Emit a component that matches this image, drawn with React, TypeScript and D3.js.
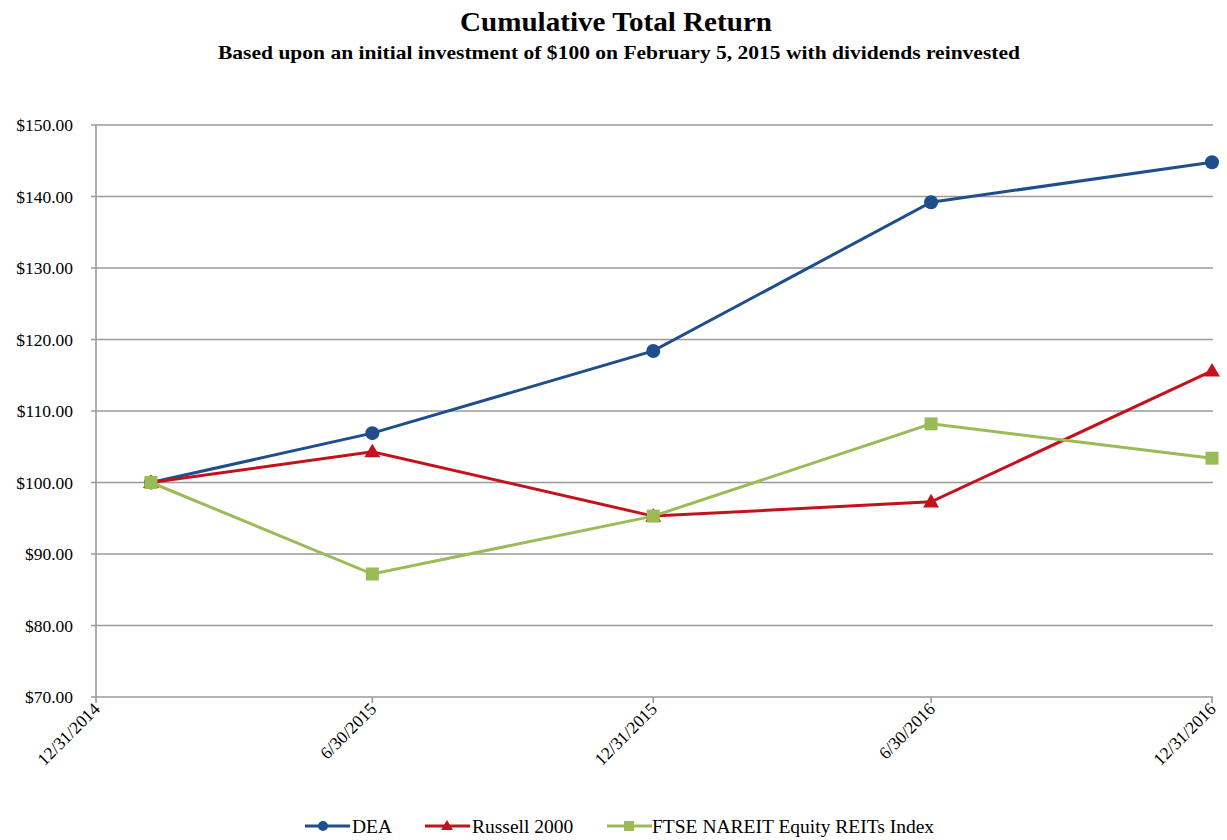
import React from "react";
import * as d3 from "d3";

const dates = ["2015-02-05", "2015-06-30", "2015-12-31", "2016-06-30", "2016-12-31"];
const tickDates = ["2014-12-31", "2015-06-30", "2015-12-31", "2016-06-30", "2016-12-31"];
const tickLabels = ["12/31/2014", "6/30/2015", "12/31/2015", "6/30/2016", "12/31/2016"];
const dea = [100, 106.9, 118.4, 139.2, 144.8];
const russell = [100, 104.3, 95.3, 97.3, 115.6];
const ftse = [100, 87.2, 95.3, 108.2, 103.4];
const yTicks = [70, 80, 90, 100, 110, 120, 130, 140, 150];

const series = [
  { name: "DEA", values: dea, color: "#1f4e8c", marker: "circle" },
  { name: "Russell 2000", values: russell, color: "#c3121c", marker: "triangle" },
  { name: "FTSE NAREIT Equity REITs Index", values: ftse, color: "#9bbb59", marker: "square" },
];

const W = 1227, H = 840;
const parse = d3.timeParse("%Y-%m-%d");

function Marker({ type, x, y, color }: { type: string; x: number; y: number; color: string }) {
  if (type === "circle") return <circle cx={x} cy={y} r={7} fill={color} />;
  if (type === "square") return <rect x={x - 6.5} y={y - 6.5} width={13} height={13} fill={color} />;
  const s = 8;
  return <path d={`M${x},${y - s} L${x + s},${y + s * 0.7} L${x - s},${y + s * 0.7} Z`} fill={color} />;
}

export default function App() {
  const x = d3.scaleTime()
    .domain([parse(tickDates[0])!, parse(tickDates[4])!])
    .range([96, 1212]);
  const y = d3.scaleLinear().domain([70, 150]).range([697, 125]);
  const line = d3.line<[Date, number]>().x(d => x(d[0])).y(d => y(d[1]));
  const serif = "'Liberation Serif', 'Times New Roman', serif";

  const legend = [
    { x0: 305, tx: 352 },
    { x0: 425, tx: 472 },
    { x0: 607, tx: 652 },
  ];

  return (
    <svg width={W} height={H} style={{ position: "absolute", left: 0, top: 0, background: "#fff" }} fontFamily={serif}>
      <text x={616} y={31} textAnchor="middle" fontSize={27} fontWeight="bold" textLength={312} lengthAdjust="spacingAndGlyphs">Cumulative Total Return</text>
      <text x={619} y={59} textAnchor="middle" fontSize={19} fontWeight="bold" textLength={802} lengthAdjust="spacingAndGlyphs">
        Based upon an initial investment of $100 on February 5, 2015 with dividends reinvested
      </text>
      {yTicks.map(t => (
        <g key={t}>
          <line x1={91} x2={1213} y1={y(t)} y2={y(t)} stroke="#9a9a9a" strokeWidth={1.6} />
          <text x={73} y={y(t) + 6} textAnchor="end" fontSize={17.5}>${t.toFixed(2)}</text>
        </g>
      ))}
      <line x1={96} x2={96} y1={125} y2={697} stroke="#9a9a9a" strokeWidth={1.6} />
      {tickDates.map((d, i) => {
        const tx = x(parse(d)!);
        return (
          <g key={d}>
            <line x1={tx} x2={tx} y1={697} y2={703} stroke="#9a9a9a" strokeWidth={1.6} />
            <text transform={`translate(${tx + 5},${710}) rotate(-45)`} textAnchor="end" fontSize={17.5}>{tickLabels[i]}</text>
          </g>
        );
      })}
      {series.map(s => {
        const pts: [Date, number][] = dates.map((d, i) => [parse(d)!, s.values[i]]);
        return (
          <g key={s.name}>
            <path d={line(pts) || ""} fill="none" stroke={s.color} strokeWidth={3} />
            {pts.map((p, i) => <Marker key={i} type={s.marker} x={x(p[0])} y={y(p[1])} color={s.color} />)}
          </g>
        );
      })}
      {series.map((s, i) => (
        <g key={s.name}>
          <line x1={legend[i].x0} x2={legend[i].x0 + 45} y1={826} y2={826} stroke={s.color} strokeWidth={3} />
          {s.marker === "circle" && <circle cx={legend[i].x0 + 18} cy={826} r={5} fill={s.color} />}
          {s.marker === "triangle" && <path d={`M${legend[i].x0 + 22},${820} L${legend[i].x0 + 28},${830} L${legend[i].x0 + 16},${830} Z`} fill={s.color} />}
          {s.marker === "square" && <rect x={legend[i].x0 + 17} y={821} width={10} height={10} fill={s.color} />}
          <text x={legend[i].tx} y={833} fontSize={19.5}>{s.name}</text>
        </g>
      ))}
    </svg>
  );
}
